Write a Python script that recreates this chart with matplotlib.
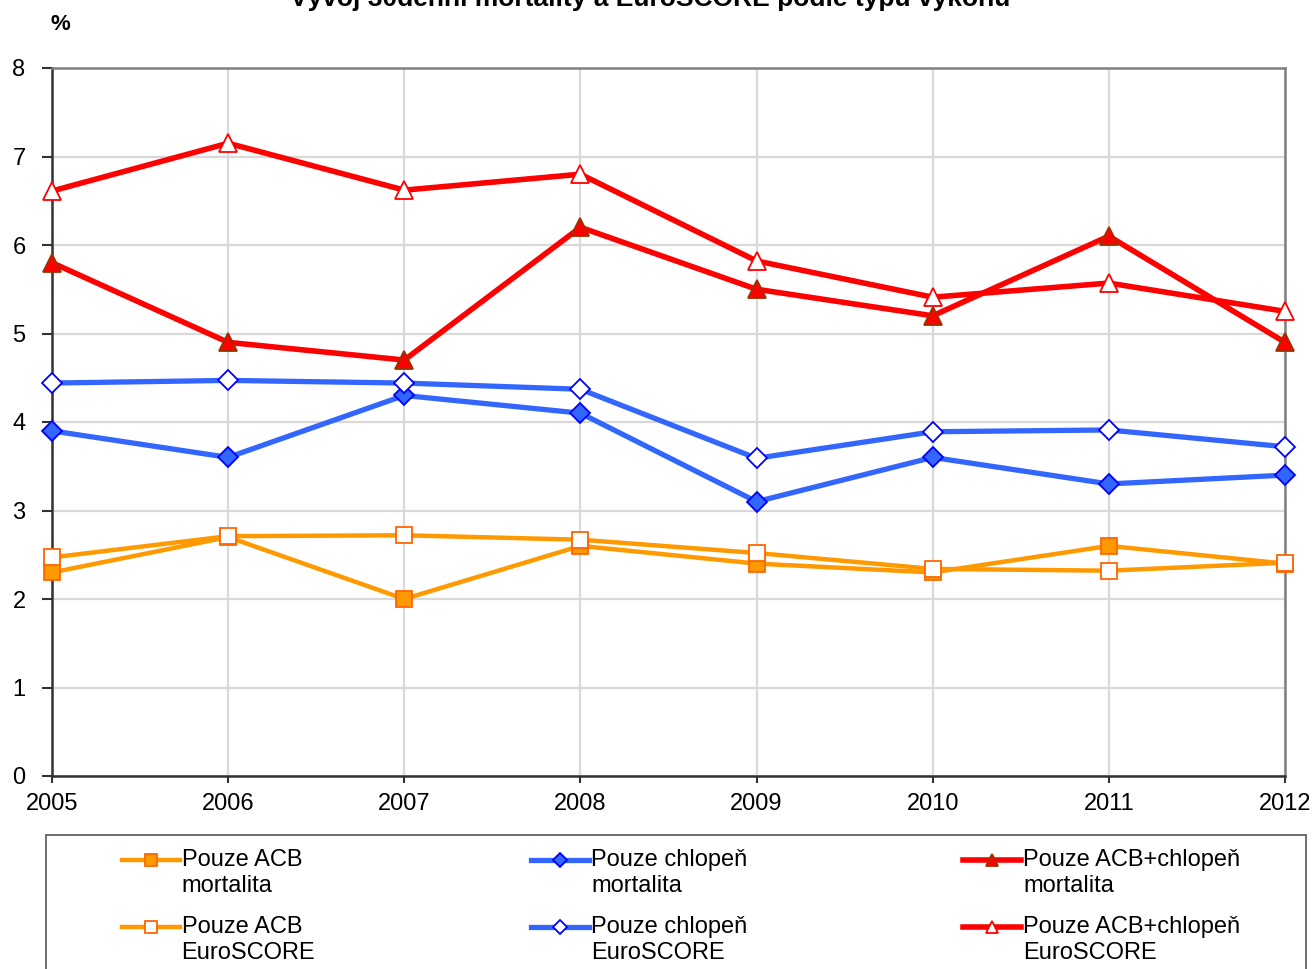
import matplotlib
matplotlib.use('Agg')
import matplotlib.pyplot as plt
from matplotlib.legend_handler import HandlerLine2D
from matplotlib.patches import Rectangle
import numpy as np

plt.rcParams['font.family'] = ['Liberation Sans', 'DejaVu Sans']

years = [2005, 2006, 2007, 2008, 2009, 2010, 2011, 2012]

acb_mort = [2.3, 2.7, 2.0, 2.6, 2.4, 2.3, 2.6, 2.4]
acb_euro = [2.47, 2.71, 2.72, 2.67, 2.52, 2.34, 2.32, 2.41]
chl_mort = [3.9, 3.6, 4.3, 4.1, 3.1, 3.6, 3.3, 3.4]
chl_euro = [4.44, 4.47, 4.44, 4.37, 3.59, 3.89, 3.91, 3.72]
both_mort = [5.8, 4.9, 4.7, 6.2, 5.5, 5.2, 6.1, 4.9]
both_euro = [6.61, 7.15, 6.62, 6.80, 5.82, 5.41, 5.57, 5.25]

labels = ['Pouze ACB\nmortalita', 'Pouze ACB\nEuroSCORE',
          'Pouze chlopeň\nmortalita', 'Pouze chlopeň\nEuroSCORE',
          'Pouze ACB+chlopeň\nmortalita', 'Pouze ACB+chlopeň\nEuroSCORE']

W, H = 1316, 969
fig = plt.figure(figsize=(W / 100, H / 100), dpi=100)
ax = fig.add_axes([52 / W, 1 - 776 / H, (1285 - 52) / W, (776 - 68) / H])

orange, orange_edge = '#FF9900', '#FF6600'
blue, blue_edge = '#3366FF', '#0000FF'
red, red_edge = '#FF0000', '#993300'

lines = []
lines += ax.plot(years, acb_mort, color=orange, lw=3.2, marker='s', ms=12,
                 mfc=orange, mec=orange_edge, mew=1.3, zorder=3, clip_on=False)
lines += ax.plot(years, acb_euro, color=orange, lw=3.2, marker='s', ms=12,
                 mfc='white', mec=orange_edge, mew=1.3, zorder=3, clip_on=False)
lines += ax.plot(years, chl_mort, color=blue, lw=3.8, marker='D', ms=10,
                 mfc=blue, mec=blue_edge, mew=1.3, zorder=3, clip_on=False)
lines += ax.plot(years, chl_euro, color=blue, lw=3.8, marker='D', ms=10,
                 mfc='white', mec=blue_edge, mew=1.3, zorder=3, clip_on=False)
lines += ax.plot(years, both_mort, color=red, lw=4.0, marker='^', ms=13,
                 mfc=red, mec=red_edge, mew=1.3, zorder=3, clip_on=False)
lines += ax.plot(years, both_euro, color=red, lw=4.0, marker='^', ms=13,
                 mfc='white', mec=red, mew=1.3, zorder=3, clip_on=False)

ax.set_xlim(2005, 2012)
ax.set_ylim(0, 8)
ax.set_xticks(years)
ax.set_yticks(range(0, 9))
ax.grid(True, color='#D9D9D9', lw=1.6, zorder=0)
ax.tick_params(axis='both', labelsize=17, color='#333333', width=1.5)
ax.tick_params(axis='x', length=5, pad=7)
ax.tick_params(axis='y', length=7, pad=12)
for s in ['left', 'bottom']:
    ax.spines[s].set_color('#333333')
    ax.spines[s].set_linewidth(1.8)
for s in ['top', 'right']:
    ax.spines[s].set_color('#808080')
    ax.spines[s].set_linewidth(1.8)

fig.text(650 / W, 1 - 6 / H, 'Vývoj 30denní mortality a EuroSCORE podle typu výkonu',
         ha='center', va='baseline', fontsize=19, fontweight='bold')
fig.text(60 / W, 1 - 25 / H, '%', ha='center', va='center', fontsize=16, fontweight='bold')


class UpHandler(HandlerLine2D):
    # move the handle up to the first line of a two-line label
    def create_artists(self, legend, orig_handle, xdescent, ydescent, width,
                       height, fontsize, trans):
        arts = super().create_artists(legend, orig_handle, xdescent, ydescent,
                                      width, height, fontsize, trans)
        for a in arts:
            a.set_ydata(np.asarray(a.get_ydata()) + 0.55 * fontsize)
        return arts


fig.add_artist(Rectangle((46 / W, -0.05), (1306 - 46) / W, 1 - 835 / H + 0.05,
                         transform=fig.transFigure, fill=False,
                         edgecolor='#555555', lw=1.2))
fig.legend(lines, labels, ncol=3, loc='upper left',
           bbox_to_anchor=(110 / W, 1 - 837 / H), frameon=False,
           prop={'size': 17}, handlelength=2.45, handletextpad=0.08,
           columnspacing=9.15, labelspacing=0.8, borderpad=0, markerscale=0.7,
           handler_map={l: UpHandler() for l in lines})
for t in fig.legends[0].get_texts():
    t.set_linespacing(1.25)

fig.savefig('out.png', dpi=100)
